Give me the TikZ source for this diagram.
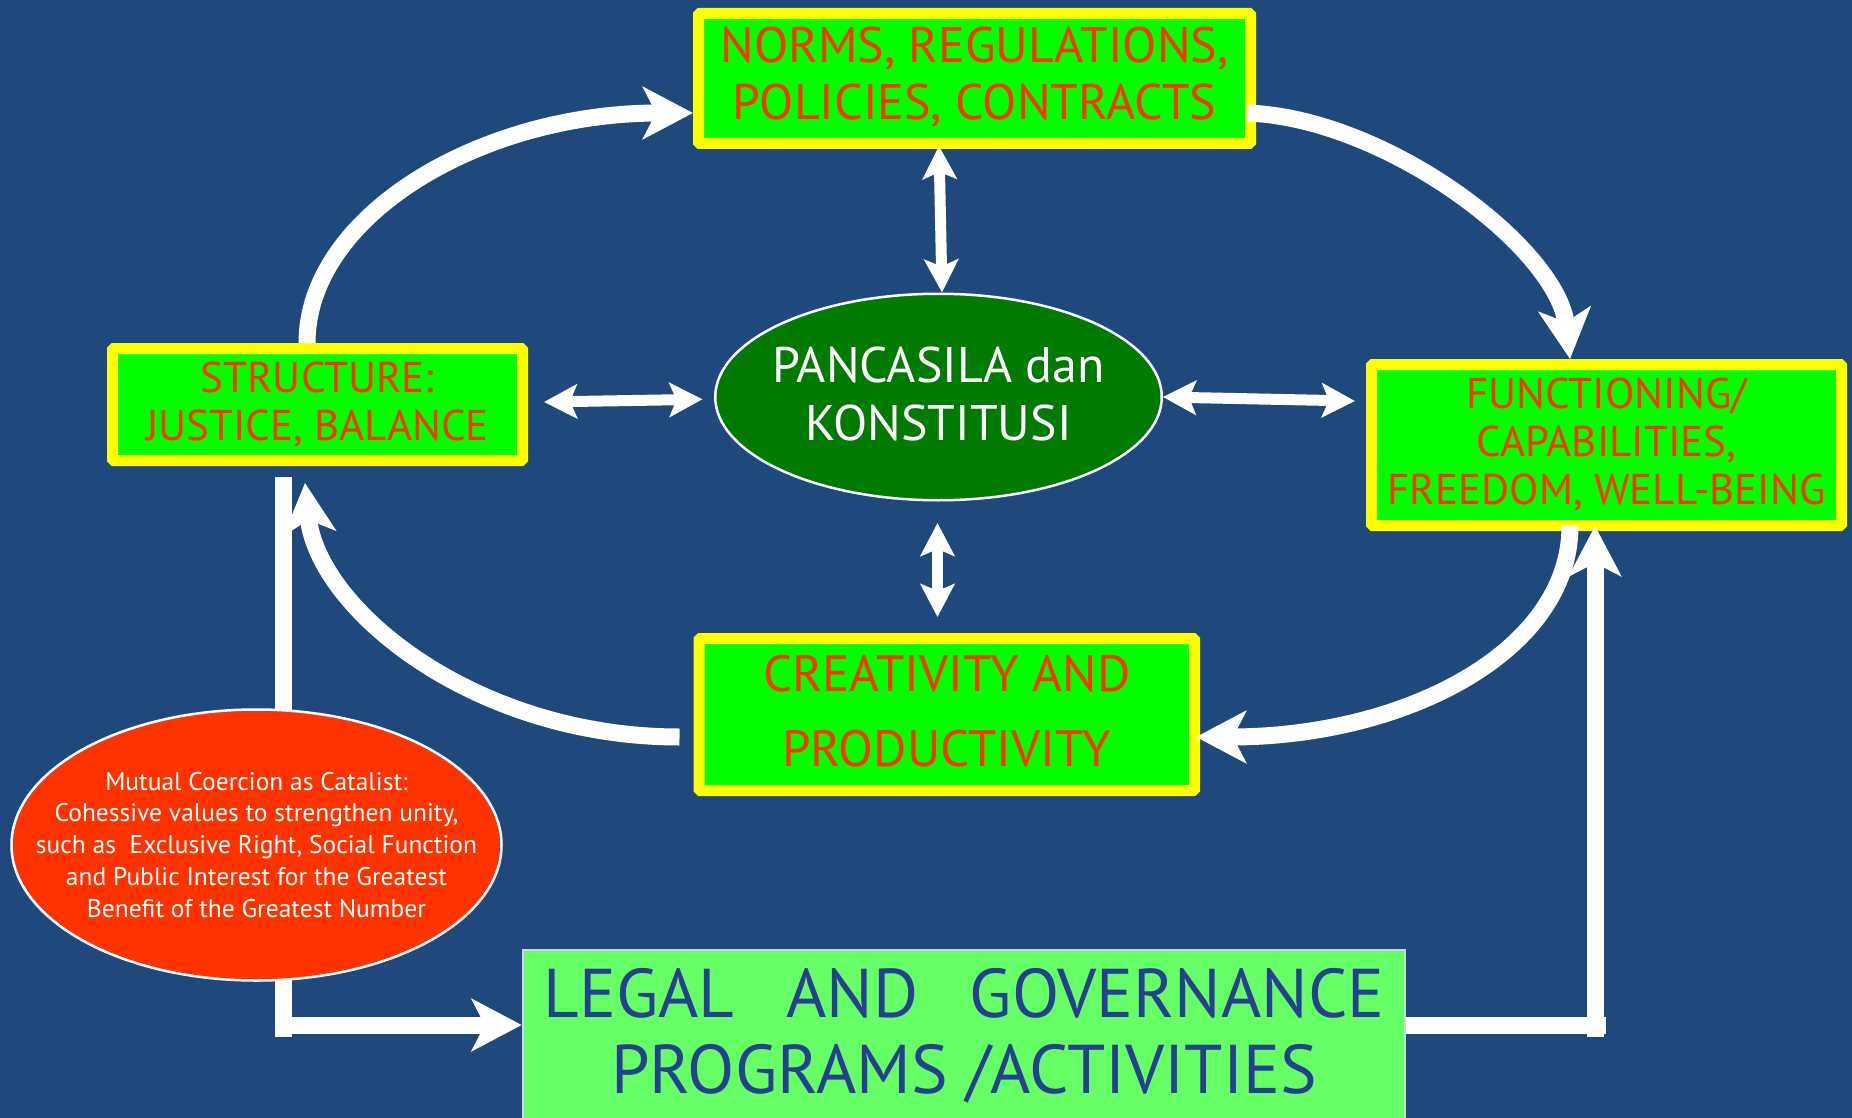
\documentclass[tikz,border=0pt]{standalone}
\usepackage{fontspec}
\setmainfont{PT Sans}
\usetikzlibrary{arrows.meta,shapes.geometric,calc}
\definecolor{bgblue}{HTML}{1F497D}
\definecolor{boxgreen}{HTML}{00FF00}
\definecolor{boxyellow}{HTML}{FFFF00}
\definecolor{txtred}{HTML}{FF3300}
\definecolor{ellgreen}{HTML}{007A00}
\definecolor{ellred}{HTML}{FF3300}
\definecolor{lightgreen}{HTML}{66FF66}
\definecolor{legalblue}{HTML}{24408E}
\definecolor{legaledge}{HTML}{C8D6E6}
\begin{document}
\begin{tikzpicture}[x=1pt,y=-1pt,
  ybox/.style={rectangle, draw=boxyellow, line width=11pt, fill=boxgreen, rounded corners=1.5pt, inner sep=0pt, outer sep=5.5pt, text=txtred, align=center},
  bigarrow/.style={draw=white, line width=17pt, -{Stealth[length=50pt,width=52pt,inset=13pt]}},
  dblarrow/.style={draw=white, line width=11pt, {Stealth[length=33pt,width=34pt,inset=7pt]}-{Stealth[length=33pt,width=34pt,inset=7pt]}},
  plainline/.style={draw=white, line width=17pt},
]
\useasboundingbox (0,0) rectangle (1852,1118);
\clip (0,0) rectangle (1852,1118);
\fill[bgblue] (0,0) rectangle (1852,1118);

\coordinate (lc) at (283,1025);
\coordinate (rc) at (1595,1025);

\node[ybox, minimum width=410pt, minimum height=112pt, font=\fontsize{43}{48}\selectfont, text height=71pt, text depth=0pt] (struct) at (317.5,404.5) {STRUCTURE:\\JUSTICE, BALANCE};

\draw[plainline] ($(struct.south)+(-34.5,11)$) -- ($(lc)+(0,12)$);

\node[ellipse, draw=white, line width=2.5pt, fill=ellred, minimum width=490pt, minimum height=271pt, inner xsep=-70pt, inner ysep=0pt, outer sep=1.25pt, text=white, align=center, font=\fontsize{25.5}{31.7}\selectfont, text height=144pt, text depth=0pt] (coer) at (256.5,845) {Mutual Coercion as Catalist:\\Cohessive values to strengthen unity,\\such as\ \ Exclusive Right, Social Function\\and Public Interest for the Greatest\\Benefit of the Greatest Number};

\node[ybox, minimum width=552pt, minimum height=130pt, font=\fontsize{50}{57}\selectfont, text height=83pt, text depth=0pt] (norms) at (974.5,78.5) {NORMS, REGULATIONS,\\POLICIES, CONTRACTS};

\node[ybox, minimum width=470pt, minimum height=161pt, font=\fontsize{43}{48}\selectfont, text height=118pt, text depth=0pt] (func) at (1606.5,445) {FUNCTIONING/\\CAPABILITIES,\\FREEDOM, WELL-BEING};

\node[ybox, minimum width=495.5pt, minimum height=152pt, font=\fontsize{51}{75}\selectfont, text height=103pt, text depth=0pt] (creat) at (946.75,714.5) {CREATIVITY AND\\PRODUCTIVITY};

\node[ellipse, draw=white, line width=2.5pt, fill=ellgreen, minimum width=446.5pt, minimum height=206.5pt, inner xsep=-40pt, inner ysep=0pt, outer sep=1.25pt, text=white, align=center, font=\fontsize{50}{58}\selectfont, text height=86pt, text depth=0pt] (panc) at (938.5,397) {PANCASILA dan\\KONSTITUSI};

\node[rectangle, draw=legaledge, line width=2.5pt, fill=lightgreen, minimum width=882pt, minimum height=190pt, inner sep=0pt, outer sep=1.25pt, text=legalblue, align=center, font=\fontsize{69}{76}\selectfont, text height=96pt, text depth=0pt] (legal) at (964,1045) {LEGAL\hspace{0.75em}AND\hspace{0.75em}GOVERNANCE\\PROGRAMS /ACTIVITIES};

% bottom connectors
\draw[bigarrow] (lc) -- ($(legal.west)+(0,-20)$);
\draw[plainline] ($(legal.east)+(0,-20)$) -- ($(rc)+(11,0)$);
\draw[bigarrow] ($(rc)+(0,12)$) -- ($(func.south)+(-11.5,-5)$);

% cycle arcs
\draw[bigarrow] ($(struct.north)+(-10.5,0)$) .. controls +(0,-127) and +(-213,0) .. ($(norms.west)+(0,34.5)$);
\draw[bigarrow] ($(norms.east)+(-9,34.5)$) .. controls +(140,5) and +(-12,-110) .. ($(func.north)+(-36.5,0)$);
\draw[bigarrow] ($(func.south)+(-36.5,-5)$) .. controls +(0,125) and +(210,0) .. ($(creat.east)+(-4,22.5)$);
\draw[bigarrow] ($(creat.west)+(-14,22.5)$) .. controls +(-206,0) and +(12,125) .. ($(struct.south)+(-12.5,17)$);

% double arrows
\draw[dblarrow] ($(norms.south)+(-35.5,-3)$) -- ($(panc.north)+(3.5,0)$);
\draw[dblarrow] ($(struct.east)+(16,-2.5)$) -- ($(panc.west)+(-11.5,2.3)$);
\draw[dblarrow] (panc.east) -- ($(func.west)+(-11,-44)$);
\draw[dblarrow] ($(panc.south)+(-1,21.5)$) -- ($(creat.north)+(-9.25,-16)$);
\end{tikzpicture}
\end{document}
